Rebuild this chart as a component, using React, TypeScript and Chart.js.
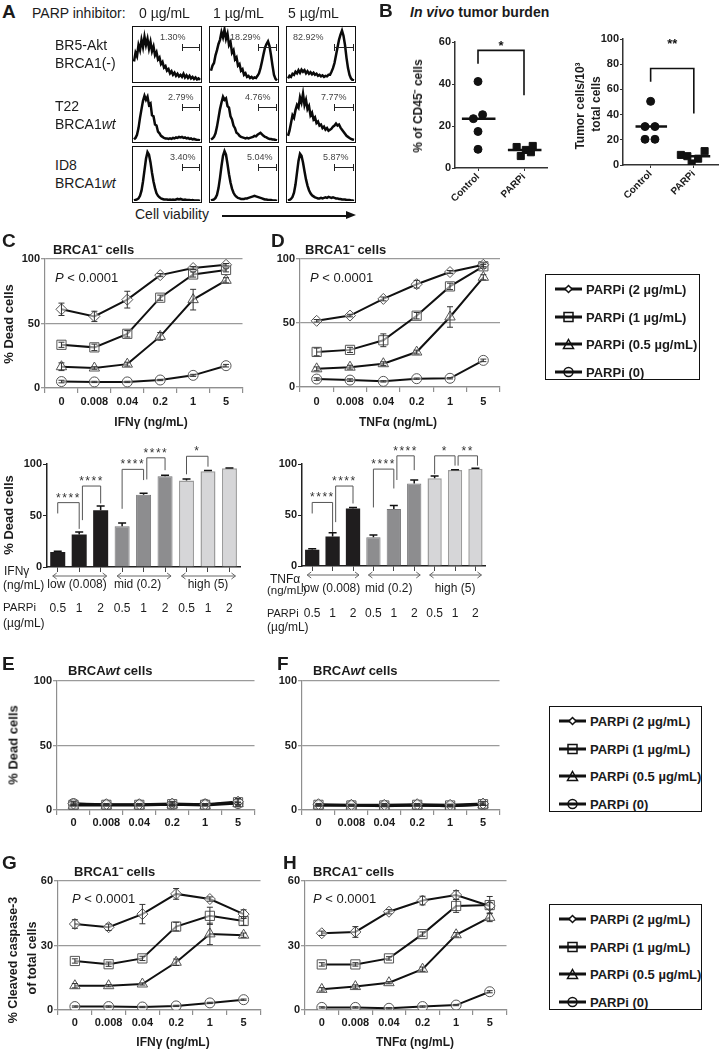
import React, { useEffect, useRef } from "react";
import { Chart, registerables } from "chart.js";
Chart.register(...registerables);

const FONT = "'Liberation Sans', Arial, Helvetica, sans-serif";
const INK = "#1b1b1b";

// ---------------- Panel A (flow histograms) ----------------
const histDoses = ["0 µg/mL", "1 µg/mL", "5 µg/mL"];
const histPercents = [
  ["1.30%", "18.29%", "82.92%"],
  ["2.79%", "4.76%", "7.77%"],
  ["3.40%", "5.04%", "5.87%"],
];
const histBR5Dose0 = [0.38,0.55,0.48,0.7,0.6,0.8,0.66,0.86,0.7,0.82,0.63,0.76,0.58,0.67,0.5,0.56,0.42,0.46,0.33,0.37,0.26,0.29,0.2,0.23,0.15,0.19,0.12,0.16,0.1,0.14,0.09,0.12,0.08,0.14,0.07,0.11,0.06,0.1,0.05,0.08,0.04,0.07,0.03,0.05,0.02];
const histBR5Dose1 = [0.2,0.3,0.35,0.5,0.6,0.72,0.8,0.95,0.85,1.0,0.82,0.92,0.7,0.76,0.55,0.6,0.42,0.46,0.3,0.33,0.2,0.23,0.12,0.15,0.08,0.1,0.06,0.08,0.05,0.07,0.06,0.1,0.15,0.25,0.38,0.52,0.65,0.72,0.77,0.68,0.5,0.3,0.12,0.04,0.01];
const histBR5Dose5 = [0.05,0.1,0.08,0.14,0.12,0.18,0.15,0.21,0.16,0.22,0.18,0.21,0.15,0.19,0.14,0.17,0.13,0.16,0.12,0.14,0.1,0.12,0.09,0.11,0.08,0.1,0.09,0.12,0.12,0.18,0.25,0.35,0.5,0.65,0.8,0.9,0.98,0.88,0.7,0.45,0.25,0.12,0.05,0.02,0.01];
const histT22Dose0 = [0.03,0.06,0.12,0.25,0.45,0.62,0.78,0.88,0.8,0.86,0.7,0.73,0.5,0.48,0.32,0.3,0.18,0.15,0.1,0.08,0.06,0.05,0.05,0.04,0.05,0.04,0.06,0.05,0.07,0.06,0.08,0.07,0.08,0.06,0.07,0.05,0.06,0.04,0.05,0.03,0.04,0.03,0.02,0.02,0.01];
const histT22Dose1 = [0.03,0.05,0.08,0.15,0.28,0.45,0.62,0.75,0.86,0.8,0.83,0.68,0.65,0.48,0.42,0.3,0.25,0.16,0.14,0.1,0.08,0.07,0.06,0.05,0.06,0.05,0.06,0.07,0.08,0.1,0.09,0.12,0.14,0.16,0.13,0.1,0.08,0.07,0.05,0.04,0.04,0.03,0.03,0.02,0.01];
const histT22Dose5 = [0.1,0.2,0.35,0.5,0.45,0.6,0.7,0.65,0.85,0.75,0.92,0.7,0.8,0.62,0.68,0.5,0.55,0.42,0.46,0.35,0.38,0.3,0.32,0.25,0.28,0.22,0.25,0.2,0.22,0.24,0.28,0.3,0.34,0.3,0.32,0.26,0.22,0.18,0.14,0.1,0.08,0.06,0.04,0.03,0.02];
const histID8Dose0 = [0.01,0.02,0.03,0.05,0.1,0.2,0.38,0.6,0.82,0.95,0.9,0.75,0.55,0.38,0.25,0.15,0.1,0.07,0.05,0.04,0.03,0.03,0.03,0.02,0.03,0.02,0.03,0.02,0.03,0.04,0.03,0.04,0.03,0.02,0.03,0.02,0.02,0.02,0.01,0.02,0.01,0.01,0.01,0.01,0.0];
const histID8Dose1 = [0.01,0.02,0.03,0.06,0.12,0.25,0.45,0.68,0.88,0.97,0.9,0.72,0.52,0.36,0.24,0.16,0.11,0.08,0.06,0.05,0.04,0.04,0.04,0.05,0.05,0.06,0.07,0.08,0.09,0.1,0.09,0.08,0.07,0.06,0.05,0.04,0.03,0.03,0.02,0.02,0.02,0.01,0.01,0.01,0.0];
const histID8Dose5 = [0.01,0.02,0.04,0.08,0.16,0.32,0.55,0.78,0.92,0.88,0.75,0.58,0.42,0.3,0.21,0.15,0.11,0.09,0.07,0.06,0.05,0.05,0.06,0.05,0.06,0.07,0.06,0.08,0.07,0.06,0.07,0.06,0.05,0.05,0.04,0.04,0.03,0.03,0.03,0.02,0.02,0.02,0.01,0.01,0.0];
const histGrid = [
  [histBR5Dose0, histBR5Dose1, histBR5Dose5],
  [histT22Dose0, histT22Dose1, histT22Dose5],
  [histID8Dose0, histID8Dose1, histID8Dose5],
];

// ---------------- Panel B (in vivo) ----------------
const groupsB = ["Control", "PARPi"];
const cd45Control = [41.2, 25.4, 23.5, 17.4, 8.9];
const cd45Parpi = [10, 5.7, 8.6, 7.5, 10.5];
const tumorControl = [50.5, 30.5, 30.5, 20.4, 20.4];
const tumorParpi = [8, 1.2, 5, 11, 7];
const cd45CtlJitter = [0, 0.1, -0.1, 0, 0];
const cd45ParJitter = [-0.16, -0.07, 0.04, 0.15, 0.19];
const tumorCtlJitter = [0, -0.13, 0.1, -0.13, 0.1];
const tumorParJitter = [-0.3, -0.05, 0.1, 0.25, -0.15];

// ---------------- Panels C/D/E/F/G/H (dose curves) ----------------
const doseLabels = ["0", "0.008", "0.04", "0.2", "1", "5"];
const seriesNames = ["PARPi (2 µg/mL)", "PARPi (1 µg/mL)", "PARPi (0.5 µg/mL)", "PARPi (0)"];

const ifnDead2 = [61, 55.5, 68.5, 87.5, 93, 95.5];
const ifnDead1 = [33.5, 31.5, 42, 70, 88, 91.5];
const ifnDead05 = [16.5, 15.5, 18.5, 40, 68.5, 83.5];
const ifnDead0 = [5, 4.7, 4.7, 6.2, 9.8, 17.3];
const ifnDead2Err = [4.8, 4, 6.5, 1.2, 1.2, 1];
const ifnDead1Err = [2, 2.5, 2.5, 2, 2, 1.5];
const ifnDead05Err = [3, 1, 1.5, 3, 8, 2];
const ifnDead0Err = [1, 0.5, 0.5, 0.5, 0.8, 1];

const tnfDead2 = [51.7, 55.8, 68.8, 80.3, 89.8, 95.5];
const tnfDead1 = [27.4, 29, 36.5, 55.7, 78.6, 94.3];
const tnfDead05 = [14.2, 15.5, 18.2, 27.3, 54.7, 85.7];
const tnfDead0 = [6.2, 5.4, 4.4, 6.5, 6.8, 20.8];
const tnfDead2Err = [1, 1, 1.5, 3, 1.2, 1.5];
const tnfDead1Err = [3, 2, 5, 2.5, 2.5, 1.5];
const tnfDead05Err = [1.5, 1.5, 1.5, 1.5, 8, 2];
const tnfDead0Err = [1, 1, 0.5, 0.5, 0.5, 1];

const wtIfn2 = [5, 4.5, 4.5, 5, 4.5, 6.5];
const wtIfn1 = [4, 4, 4, 4.5, 4, 6];
const wtIfn05 = [3.5, 3.5, 3.5, 4, 3.5, 5];
const wtIfn0 = [5, 4, 4, 4, 4.5, 5];
const wtIfn2Err = [1.5, 0.5, 0.5, 1, 0.5, 2];
const wtIfn1Err = [0.5, 0.5, 0.5, 2, 0.5, 3];
const wtIfn05Err = [0.5, 0.5, 0.5, 0.5, 0.5, 1];
const wtIfn0Err = [0.5, 0.5, 0.5, 0.5, 0.5, 1];

const wtTnf2 = [4.5, 4, 4, 4.5, 4, 5];
const wtTnf1 = [4, 3.5, 3.5, 4, 3.5, 4.5];
const wtTnf05 = [3.5, 3.5, 3, 3.5, 3, 4];
const wtTnf0 = [3.5, 3.5, 3.5, 3.5, 3, 4];
const wtTnf2Err = [0.5, 0.5, 1, 0.5, 0.5, 1.5];
const wtTnf1Err = [0.5, 0.5, 0.5, 0.5, 0.5, 1];
const wtTnf05Err = [0.5, 0.5, 0.5, 0.5, 0.5, 0.5];
const wtTnf0Err = [0.5, 0.5, 0.5, 0.5, 0.5, 0.5];

const ifnCasp2 = [40, 38.5, 44.6, 54, 51.6, 44.6];
const ifnCasp1 = [22.8, 21.3, 24, 38.8, 43.8, 41.4];
const ifnCasp05 = [11.3, 11.3, 12.1, 22.2, 35.4, 34.8];
const ifnCasp0 = [1.6, 1.6, 1.4, 1.9, 3.3, 4.8];
const ifnCasp2Err = [2, 1.5, 4.5, 2.5, 1, 2];
const ifnCasp1Err = [1, 1, 1, 2, 4, 2];
const ifnCasp05Err = [1, 0.5, 0.5, 1.5, 5, 1];
const ifnCasp0Err = [0.3, 0.3, 0.3, 0.3, 0.3, 0.3];

const tnfCasp2 = [35.7, 36.3, 45.7, 50.9, 53.5, 48.4];
const tnfCasp1 = [21.2, 21.2, 24, 35.3, 48.4, 48.8];
const tnfCasp05 = [9.6, 10.9, 12.7, 19, 35, 43.1];
const tnfCasp0 = [1.2, 1.2, 0.8, 1.6, 2.3, 8.5];
const tnfCasp2Err = [1, 2.5, 1, 2, 2, 1.5];
const tnfCasp1Err = [0.8, 0.8, 0.8, 1, 3, 4];
const tnfCasp05Err = [0.8, 0.8, 0.5, 1, 1, 2];
const tnfCasp0Err = [0.3, 0.3, 0.3, 0.3, 0.3, 0.5];

// ---------------- Bar panels ----------------
const barDoseLabels = ["0.5", "1", "2", "0.5", "1", "2", "0.5", "1", "2"];
const cytokineGroups = ["low (0.008)", "mid (0.2)", "high (5)"];
const ifnBars = [14.6, 31.5, 55.2, 39.6, 70.1, 88, 84, 92.9, 95.8];
const ifnBarsErr = [0.8, 2.6, 4, 3, 1.5, 1, 1.5, 0.7, 0.4];
const tnfBars = [16, 29, 56.4, 28.2, 56, 81, 86, 94, 95.4];
const tnfBarsErr = [1, 3.6, 1, 2.3, 3.3, 3.3, 2.3, 0.4, 0.4];
// [fromIndex, toIndex, leftLegY, topY, rightLegY, stars]
const ifnSig: [number, number, number, number, number, string][] = [
  [0, 1, 52, 62.5, 37, "****"],
  [1.15, 2, 45.5, 78.6, 61.7, "****"],
  [3, 4, 56.5, 94.8, 84.4, "****"],
  [4.15, 5, 85, 106, 94, "****"],
  [6, 7, 90, 107.5, 97.4, "*"],
];
const tnfSig: [number, number, number, number, number, string][] = [
  [0, 1, 51.5, 62.3, 33.4, "****"],
  [1.15, 2, 43, 78.4, 61.3, "****"],
  [3, 4, 57.4, 95, 76, "****"],
  [4.15, 5, 84.3, 108, 94, "****"],
  [6, 7, 90, 108, 98.4, "*"],
  [7.15, 8.1, 98.4, 108, 98.4, "**"],
];

// ---------------- helpers ----------------
const markerStyles = [
  { pointStyle: "rectRot", pointRadius: 5.5 },
  { pointStyle: "rect", pointRadius: 6.5 },
  { pointStyle: "triangle", pointRadius: 6 },
  { pointStyle: "circle", pointRadius: 5 },
];

const errorBarPlugin = {
  id: "errbars",
  afterDatasetsDraw(chart: any) {
    const ctx = chart.ctx;
    const y = chart.scales.y;
    chart.data.datasets.forEach((ds: any, di: number) => {
      if (!ds.errors) return;
      const meta = chart.getDatasetMeta(di);
      meta.data.forEach((el: any, i: number) => {
        const e = ds.errors[i];
        if (!e) return;
        const v = ds.data[i];
        const x = el.x;
        const yt = y.getPixelForValue(v + e);
        const yb = ds.errUp ? y.getPixelForValue(v) : y.getPixelForValue(v - e);
        const cw = ds.capW || 3;
        ctx.save();
        ctx.strokeStyle = ds.errColor || "#333";
        ctx.lineWidth = ds.errWidth || 1;
        ctx.beginPath();
        ctx.moveTo(x, yt);
        ctx.lineTo(x, yb);
        ctx.moveTo(x - cw, yt);
        ctx.lineTo(x + cw, yt);
        if (!ds.errUp) {
          ctx.moveTo(x - cw, yb);
          ctx.lineTo(x + cw, yb);
        }
        ctx.stroke();
        ctx.restore();
      });
    });
  },
};

const tickFont = { family: FONT, size: 11, weight: "bold" as const };

function lineConfig(p: any) {
  return {
    type: "line",
    data: {
      labels: doseLabels,
      datasets: p.series.map((s: number[], i: number) => ({
        label: seriesNames[i],
        data: s,
        errors: p.errors[i],
        borderColor: "#111",
        borderWidth: 2,
        pointBorderColor: "#555",
        pointBorderWidth: 1,
        pointBackgroundColor: "rgba(255,255,255,0.55)",
        tension: 0,
        ...markerStyles[i],
      })),
    },
    options: {
      responsive: false,
      animation: false,
      events: [],
      layout: { padding: { top: p.padTop, right: p.padRight, left: 0, bottom: 0 } },
      plugins: { legend: { display: false }, tooltip: { enabled: false } },
      scales: {
        x: {
          type: "category",
          offset: true,
          grid: { offset: true, drawOnChartArea: false, tickLength: 5, color: "#8f8f8f", lineWidth: 1.2 },
          border: { color: "#8f8f8f", width: 1.2 },
          ticks: { font: tickFont, color: INK, padding: p.tickPad, maxRotation: 0, autoSkip: false },
          afterFit: (s: any) => { s.height = p.xH; },
        },
        y: {
          min: 0,
          max: p.yMax,
          ticks: { stepSize: p.yStep, font: tickFont, color: INK, padding: 1 },
          grid: { color: "#9a9a9a", lineWidth: 1.3, tickLength: 4 },
          border: { color: "#8f8f8f", width: 1.2 },
          afterFit: (s: any) => { s.width = p.yW; },
        },
      },
    },
    plugins: [errorBarPlugin],
  };
}

function makeSigPlugin(brackets: [number, number, number, number, number, string][]) {
  return {
    id: "sig",
    afterDraw(chart: any) {
      const { ctx, scales: { x, y } } = chart;
      ctx.save();
      ctx.strokeStyle = "#555";
      ctx.lineWidth = 1;
      ctx.fillStyle = "#333";
      ctx.font = `12px ${FONT}`;
      ctx.textAlign = "center";
      ctx.textBaseline = "alphabetic";
      try { (ctx as any).letterSpacing = "1.5px"; } catch (e) {}
      brackets.forEach(([a, b, yl, yt, yr, label]) => {
        const xa = x.getPixelForValue(a);
        const xb = x.getPixelForValue(b);
        ctx.beginPath();
        ctx.moveTo(xa, y.getPixelForValue(yl));
        ctx.lineTo(xa, y.getPixelForValue(yt));
        ctx.lineTo(xb, y.getPixelForValue(yt));
        ctx.lineTo(xb, y.getPixelForValue(yr));
        ctx.stroke();
        ctx.fillText(label, (xa + xb) / 2, y.getPixelForValue(yt) - 1);
      });
      ctx.restore();
    },
  };
}

function makeGroupPlugin(arrowDy: number, labelDy: number, shifts: number[]) {
  return {
    id: "groups",
    afterDraw(chart: any) {
      const { ctx, chartArea, scales: { x } } = chart;
      const base = chartArea.bottom;
      ctx.save();
      ctx.strokeStyle = "#666";
      ctx.lineWidth = 1;
      ctx.fillStyle = INK;
      ctx.font = `12px ${FONT}`;
      ctx.textAlign = "center";
      ctx.textBaseline = "middle";
      cytokineGroups.forEach((g, gi) => {
        const x0 = x.getPixelForValue(gi * 3) - 5;
        const x1 = x.getPixelForValue(gi * 3 + 2) + 6;
        const ya = base + arrowDy;
        ctx.beginPath();
        ctx.moveTo(x0, ya);
        ctx.lineTo(x1, ya);
        ctx.moveTo(x0 + 4, ya - 3);
        ctx.lineTo(x0, ya);
        ctx.lineTo(x0 + 4, ya + 3);
        ctx.moveTo(x1 - 4, ya - 3);
        ctx.lineTo(x1, ya);
        ctx.lineTo(x1 - 4, ya + 3);
        ctx.stroke();
        ctx.fillText(g, x.getPixelForValue(gi * 3 + 1 + shifts[gi]), base + labelDy);
      });
      ctx.restore();
    },
  };
}

const barFill = ["#1f1d1e", "#1f1d1e", "#1f1d1e", "#8d8d8f", "#8d8d8f", "#8d8d8f", "#d6d6d8", "#d6d6d8", "#d6d6d8"];
const barEdge = ["#1f1d1e", "#1f1d1e", "#1f1d1e", "#767678", "#767678", "#767678", "#9c9c9c", "#9c9c9c", "#9c9c9c"];
const barEdgeW = [0, 0, 0, 1, 1, 1, 1.5, 1.5, 1.5];

function barConfig(p: any) {
  return {
    type: "bar",
    data: {
      labels: barDoseLabels,
      datasets: [
        {
          data: p.values,
          errors: p.errs,
          errUp: true,
          capW: 4,
          errWidth: 1.5,
          errColor: "#111",
          backgroundColor: barFill,
          borderColor: barEdge,
          borderWidth: barEdgeW,
          barPercentage: 0.7,
          categoryPercentage: 1,
        },
      ],
    },
    options: {
      responsive: false,
      animation: false,
      events: [],
      layout: { padding: { top: p.padTop, right: p.padRight, left: 0, bottom: 0 } },
      plugins: { legend: { display: false }, tooltip: { enabled: false } },
      scales: {
        x: {
          grid: { offset: false, drawOnChartArea: false, tickLength: 5, color: "#444" },
          border: { color: "#222", width: 1.5 },
          ticks: { font: { family: FONT, size: 12 }, color: INK, padding: p.tickPad, maxRotation: 0, autoSkip: false },
          afterFit: (s: any) => { s.height = p.xH; },
        },
        y: {
          min: 0,
          max: 100,
          ticks: { stepSize: 50, font: tickFont, color: INK, padding: 1 },
          grid: { drawOnChartArea: false, tickLength: 4, color: "#222" },
          border: { color: "#222", width: 1.5 },
          afterFit: (s: any) => { s.width = p.yW; },
        },
      },
    },
    plugins: [errorBarPlugin, makeSigPlugin(p.sig), makeGroupPlugin(9, p.labelDy, p.shifts)],
  };
}

const median = (a: number[]) => [...a].sort((m, n) => m - n)[Math.floor(a.length / 2)];

function makeScatterDeco(ctlVals: number[], parVals: number[], bracket: number[], stars: string, starY: number) {
  return {
    id: "deco",
    afterDraw(chart: any) {
      const { ctx, scales: { x, y } } = chart;
      ctx.save();
      ctx.strokeStyle = "#111";
      ctx.lineWidth = 2.5;
      [[0, ctlVals], [1, parVals]].forEach(([cx, vals]: any) => {
        const m = median(vals);
        ctx.beginPath();
        ctx.moveTo(x.getPixelForValue(cx - 0.35), y.getPixelForValue(m));
        ctx.lineTo(x.getPixelForValue(cx + 0.38), y.getPixelForValue(m));
        ctx.stroke();
      });
      const [yl, yt, yr] = bracket;
      ctx.lineWidth = 1.6;
      ctx.beginPath();
      ctx.moveTo(x.getPixelForValue(0), y.getPixelForValue(yl));
      ctx.lineTo(x.getPixelForValue(0), y.getPixelForValue(yt));
      ctx.lineTo(x.getPixelForValue(1), y.getPixelForValue(yt));
      ctx.lineTo(x.getPixelForValue(1), y.getPixelForValue(yr));
      ctx.stroke();
      ctx.fillStyle = "#111";
      ctx.font = `bold 13px ${FONT}`;
      ctx.textAlign = "center";
      ctx.textBaseline = "middle";
      ctx.fillText(stars, x.getPixelForValue(0.5), y.getPixelForValue(starY) + 3);
      ctx.restore();
    },
  };
}

function scatterConfig(p: any) {
  return {
    type: "scatter",
    data: {
      datasets: [
        {
          data: p.ctl.map((v: number, i: number) => ({ x: 0 + p.ctlJ[i], y: v })),
          pointStyle: "circle",
          pointRadius: 4,
          backgroundColor: "#111",
          borderColor: "#111",
        },
        {
          data: p.par.map((v: number, i: number) => ({ x: 1 + p.parJ[i], y: v })),
          pointStyle: "rect",
          pointRadius: 5,
          backgroundColor: "#111",
          borderColor: "#111",
        },
      ],
    },
    options: {
      responsive: false,
      animation: false,
      events: [],
      layout: { padding: { top: p.padTop, right: p.padRight, left: 0, bottom: 0 } },
      plugins: { legend: { display: false }, tooltip: { enabled: false } },
      scales: {
        x: {
          type: "linear",
          min: p.xMin,
          max: p.xMax,
          afterBuildTicks: (s: any) => { s.ticks = [{ value: 0 }, { value: 1 }]; },
          ticks: {
            callback: (v: number) => groupsB[v],
            minRotation: 45,
            maxRotation: 45,
            font: { family: FONT, size: 10, weight: "bold" },
            color: INK,
            padding: 0,
          },
          grid: { drawOnChartArea: false, tickLength: 3, color: "#333" },
          border: { color: "#333", width: 1.5 },
          afterFit: (s: any) => { s.height = p.xH; },
        },
        y: {
          min: 0,
          max: p.yMax,
          ticks: { stepSize: 20, font: tickFont, color: INK, padding: 1 },
          grid: { drawOnChartArea: false, tickLength: 3, color: "#333" },
          border: { color: "#333", width: 1.5 },
          afterFit: (s: any) => { s.width = p.yW; },
        },
      },
    },
    plugins: [makeScatterDeco(p.ctl, p.par, p.bracket, p.stars, p.starY)],
  };
}

function histConfig(values: number[]) {
  return {
    type: "line",
    data: {
      labels: values.map((_, i) => i),
      datasets: [{ data: values, borderColor: "#0a0a0a", borderWidth: 2.5, pointRadius: 0, tension: 0 }],
    },
    options: {
      responsive: false,
      animation: false,
      events: [],
      layout: { padding: { top: 0, right: 1, left: 1, bottom: 1 } },
      plugins: { legend: { display: false }, tooltip: { enabled: false } },
      scales: { x: { display: false }, y: { display: false, min: 0, max: 1.05 } },
    },
  };
}

// ---------------- React pieces ----------------
function ChartBox({ left, top, width, height, make, border }: any) {
  const ref = useRef<HTMLCanvasElement>(null);
  useEffect(() => {
    const chart = new Chart(ref.current as HTMLCanvasElement, make() as any);
    return () => chart.destroy();
  }, []);
  return (
    <div style={{ position: "absolute", left, top, width, height, border: border || "none" }}>
      <canvas ref={ref} width={width} height={height} style={{ display: "block", width, height }} />
    </div>
  );
}

const Txt = ({ x, y, s = 13, b = false, it = false, center = false, c = INK, children }: any) => (
  <div
    style={{
      position: "absolute",
      left: x,
      top: y,
      fontSize: s,
      fontWeight: b ? 700 : 400,
      fontStyle: it ? "italic" : "normal",
      color: c,
      whiteSpace: "nowrap",
      lineHeight: 1,
      fontFamily: FONT,
      transform: `translate(${center ? "-50%" : "0"}, -50%)`,
    }}
  >
    {children}
  </div>
);

const VTxt = ({ x, y, s = 13, children }: any) => (
  <div
    style={{
      position: "absolute",
      left: x,
      top: y,
      fontSize: s,
      fontWeight: 700,
      color: INK,
      whiteSpace: "nowrap",
      lineHeight: 1,
      fontFamily: FONT,
      transform: "translate(-50%, -50%) rotate(-90deg)",
    }}
  >
    {children}
  </div>
);

function Marker({ kind }: { kind: number }) {
  const st = { fill: "none", stroke: "#111", strokeWidth: 1.5 };
  return (
    <svg width={27} height={12} style={{ position: "absolute", left: 0, top: -6 }}>
      <line x1={0} y1={6} x2={27} y2={6} stroke="#111" strokeWidth={3} />
      {kind === 0 && <polygon points="13.5,2.5 17,6 13.5,9.5 10,6" {...st} fill="#fff" />}
      {kind === 1 && <rect x={9} y={1.5} width={9} height={9} {...st} />}
      {kind === 2 && <polygon points="13.5,1.5 18.5,10.5 8.5,10.5" {...st} />}
      {kind === 3 && <circle cx={13.5} cy={6} r={4.5} {...st} />}
    </svg>
  );
}

function LegendBox({ x, y, w, h }: any) {
  const rows = [14, 42, 69, 97];
  return (
    <div style={{ position: "absolute", left: x, top: y, width: w - 3, height: h - 3, border: "1.5px solid #111" }}>
      {seriesNames.map((n, i) => (
        <div key={n} style={{ position: "absolute", left: 9, top: rows[i] }}>
          <Marker kind={i} />
          <Txt x={31} y={0} s={13} b>
            {n}
          </Txt>
        </div>
      ))}
    </div>
  );
}

const PVal = ({ x, y }: any) => (
  <Txt x={x} y={y} s={13}>
    <i>P</i> &lt; 0.0001
  </Txt>
);

const histCols = [132, 209, 286];
const histRows = [26, 86, 146];
const pctPos = [
  [160, 230, 293],
  [168, 245, 321],
  [170, 247, 323],
];
const gateX = [
  [182, 200],
  [258, 277],
  [334, 354],
];
const gateY = [47, 107, 167];

export default function App() {
  const caspSeriesG = [ifnCasp2, ifnCasp1, ifnCasp05, ifnCasp0];
  return (
    <div style={{ position: "absolute", left: 0, top: 0, width: 724, height: 1050, background: "#fff", overflow: "hidden", fontFamily: FONT }}>
      {/* Panel A histograms */}
      {histGrid.map((row, ri) =>
        row.map((vals, ci) => (
          <ChartBox key={`h${ri}${ci}`} left={histCols[ci]} top={histRows[ri]} width={68} height={55} border="1px solid #111" make={() => histConfig(vals)} />
        ))
      )}
      {histPercents.map((row, ri) =>
        row.map((pct, ci) => (
          <Txt key={`p${ri}${ci}`} x={pctPos[ri][ci]} y={histRows[ri] + 11} s={9} c="#444">
            {pct}
          </Txt>
        ))
      )}
      {gateY.map((gy, ri) =>
        gateX.map(([g0, g1], ci) => (
          <React.Fragment key={`g${ri}${ci}`}>
            <div style={{ position: "absolute", left: g0, top: gy, width: g1 - g0, height: 1, background: "#222" }} />
            <div style={{ position: "absolute", left: g0, top: gy - 3, width: 1, height: 7, background: "#222" }} />
            <div style={{ position: "absolute", left: g1 - 1, top: gy - 3, width: 1, height: 7, background: "#222" }} />
          </React.Fragment>
        ))
      )}
      <Txt x={2} y={11} s={19} b>A</Txt>
      <Txt x={32} y={13} s={14}>PARP inhibitor:</Txt>
      <Txt x={139} y={13} s={14}>{histDoses[0]}</Txt>
      <Txt x={213} y={13} s={14}>{histDoses[1]}</Txt>
      <Txt x={288} y={13} s={14}>{histDoses[2]}</Txt>
      <Txt x={55} y={45} s={14}>BR5-Akt</Txt>
      <Txt x={55} y={63} s={14}>BRCA1(-)</Txt>
      <Txt x={55} y={106} s={14}>T22</Txt>
      <Txt x={55} y={124} s={14}>BRCA1<i>wt</i></Txt>
      <Txt x={55} y={165} s={14}>ID8</Txt>
      <Txt x={55} y={183} s={14}>BRCA1<i>wt</i></Txt>
      <Txt x={135} y={214} s={14}>Cell viability</Txt>
      <div style={{ position: "absolute", left: 222, top: 215, width: 126, height: 1.5, background: "#111" }} />
      <div style={{ position: "absolute", left: 346, top: 211, width: 0, height: 0, borderTop: "4.5px solid transparent", borderBottom: "4.5px solid transparent", borderLeft: "10px solid #111" }} />

      {/* Panel B */}
      <ChartBox
        left={405}
        top={30}
        width={150}
        height={175}
        make={() =>
          scatterConfig({ ctl: cd45Control, par: cd45Parpi, ctlJ: cd45CtlJitter, parJ: cd45ParJitter, yMax: 60, yW: 50, xH: 37, padTop: 12, padRight: 8, xMin: -0.5, xMax: 1.5, bracket: [49.7, 56, 34.6], stars: "*", starY: 59.3 })
        }
      />
      <ChartBox
        left={566}
        top={27}
        width={158}
        height={175}
        make={() =>
          scatterConfig({ ctl: tumorControl, par: tumorParpi, ctlJ: tumorCtlJitter, parJ: tumorParJitter, yMax: 100, yW: 57, xH: 37, padTop: 12, padRight: 2, xMin: -0.64, xMax: 1.56, bracket: [66, 76.6, 40.8], stars: "**", starY: 97.7 })
        }
      />
      <Txt x={379} y={10} s={19} b>B</Txt>
      <Txt x={410} y={12} s={14} b><i>In vivo</i> tumor burden</Txt>
      <VTxt x={418} y={106} s={12}>% of CD45⁻ cells</VTxt>
      <VTxt x={580} y={106} s={12}>Tumor cells/10³</VTxt>
      <VTxt x={596} y={104} s={12}>total cells</VTxt>

      {/* Panel C / D curves */}
      <ChartBox
        left={0}
        top={249}
        width={250}
        height={170}
        make={() =>
          lineConfig({ series: [ifnDead2, ifnDead1, ifnDead05, ifnDead0], errors: [ifnDead2Err, ifnDead1Err, ifnDead05Err, ifnDead0Err], yMax: 100, yStep: 50, yW: 45, xH: 31, padTop: 10, padRight: 7, tickPad: 2.5 })
        }
      />
      <ChartBox
        left={255}
        top={249}
        width={255}
        height={170}
        make={() =>
          lineConfig({ series: [tnfDead2, tnfDead1, tnfDead05, tnfDead0], errors: [tnfDead2Err, tnfDead1Err, tnfDead05Err, tnfDead0Err], yMax: 100, yStep: 50, yW: 45, xH: 32, padTop: 10, padRight: 10, tickPad: 3 })
        }
      />
      <Txt x={2} y={240} s={19} b>C</Txt>
      <Txt x={53} y={249} s={13} b>BRCA1⁻ cells</Txt>
      <PVal x={55} y={277} />
      <VTxt x={8} y={324}>% Dead cells</VTxt>
      <Txt x={151} y={422} s={12} b center>IFNγ (ng/mL)</Txt>
      <Txt x={271} y={240} s={19} b>D</Txt>
      <Txt x={305} y={249} s={13} b>BRCA1⁻ cells</Txt>
      <PVal x={310} y={277} />
      <Txt x={398} y={422} s={12} b center>TNFα (ng/mL)</Txt>
      <LegendBox x={545} y={274} w={156} h={107} />

      {/* Bar panels */}
      <ChartBox
        left={0}
        top={420}
        width={262}
        height={212}
        make={() => barConfig({ values: ifnBars, errs: ifnBarsErr, sig: ifnSig, yW: 47, xH: 65, padTop: 44, padRight: 4, tickPad: 29, labelDy: 18, shifts: [-0.1, -0.28, 0] })}
      />
      <ChartBox
        left={258}
        top={420}
        width={256}
        height={212}
        make={() => barConfig({ values: tnfBars, errs: tnfBarsErr, sig: tnfSig, yW: 44, xH: 66, padTop: 44, padRight: 4, tickPad: 35, labelDy: 23, shifts: [-0.1, -0.25, 0] })}
      />
      <VTxt x={8} y={515}>% Dead cells</VTxt>
      <Txt x={4} y={571} s={12}>IFNγ</Txt>
      <Txt x={3} y={585} s={12}>(ng/mL)</Txt>
      <Txt x={3} y={608} s={11.5}>PARPi</Txt>
      <Txt x={3} y={623} s={12}>(µg/mL)</Txt>
      <Txt x={270} y={579} s={12}>TNFα</Txt>
      <Txt x={267} y={591} s={11.5}>(ng/mL)</Txt>
      <Txt x={267} y={613} s={11}>PARPi</Txt>
      <Txt x={267} y={627} s={12}>(µg/mL)</Txt>

      {/* Panel E / F */}
      <ChartBox
        left={0}
        top={671}
        width={262}
        height={165}
        make={() => lineConfig({ series: [wtIfn2, wtIfn1, wtIfn05, wtIfn0], errors: [wtIfn2Err, wtIfn1Err, wtIfn05Err, wtIfn0Err], yMax: 100, yStep: 50, yW: 57, xH: 26, padTop: 10, padRight: 7, tickPad: 1.5 })}
      />
      <ChartBox
        left={262}
        top={671}
        width={245}
        height={165}
        make={() => lineConfig({ series: [wtTnf2, wtTnf1, wtTnf05, wtTnf0], errors: [wtTnf2Err, wtTnf1Err, wtTnf05Err, wtTnf0Err], yMax: 100, yStep: 50, yW: 40, xH: 26, padTop: 10, padRight: 7, tickPad: 1.5 })}
      />
      <Txt x={2} y={663} s={19} b>E</Txt>
      <Txt x={68} y={670} s={13} b>BRCA<i>wt</i> cells</Txt>
      <VTxt x={13} y={745}>% Dead cells</VTxt>
      <Txt x={277} y={663} s={19} b>F</Txt>
      <Txt x={313} y={670} s={13} b>BRCA<i>wt</i> cells</Txt>
      <LegendBox x={549} y={706} w={154} h={107} />

      {/* Panel G / H */}
      <ChartBox
        left={0}
        top={871}
        width={268}
        height={170}
        make={() => lineConfig({ series: caspSeriesG, errors: [ifnCasp2Err, ifnCasp1Err, ifnCasp05Err, ifnCasp0Err], yMax: 60, yStep: 30, yW: 58, xH: 31, padTop: 10, padRight: 5, tickPad: 1 })}
      />
      <ChartBox
        left={268}
        top={871}
        width={246}
        height={170}
        make={() => lineConfig({ series: [tnfCasp2, tnfCasp1, tnfCasp05, tnfCasp0], errors: [tnfCasp2Err, tnfCasp1Err, tnfCasp05Err, tnfCasp0Err], yMax: 60, yStep: 30, yW: 37, xH: 31, padTop: 10, padRight: 5, tickPad: 1 })}
      />
      <Txt x={2} y={862} s={19} b>G</Txt>
      <Txt x={74} y={871} s={13} b>BRCA1⁻ cells</Txt>
      <PVal x={72} y={898} />
      <VTxt x={13} y={960} s={12.5}>% Cleaved caspase-3</VTxt>
      <VTxt x={32} y={958} s={12.5}>of total cells</VTxt>
      <Txt x={173} y={1042} s={12} b center>IFNγ (ng/mL)</Txt>
      <Txt x={283} y={862} s={19} b>H</Txt>
      <Txt x={313} y={871} s={13} b>BRCA1⁻ cells</Txt>
      <PVal x={313} y={898} />
      <Txt x={415} y={1042} s={12} b center>TNFα (ng/mL)</Txt>
      <LegendBox x={549} y={904} w={154} h={107} />
    </div>
  );
}
